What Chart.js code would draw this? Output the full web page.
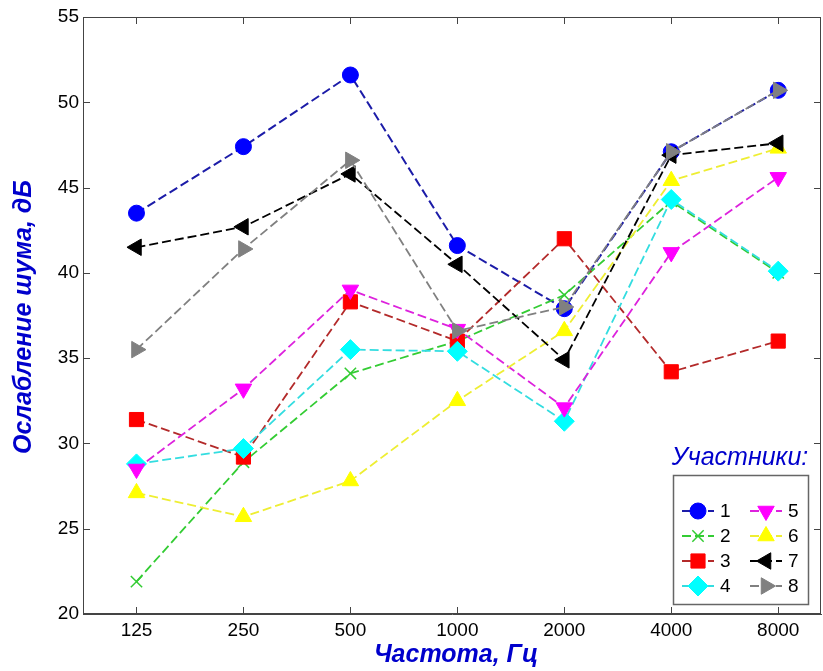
<!DOCTYPE html>
<html lang="ru">
<head>
    <meta charset="UTF-8">
    <title>Ослабление шума</title>
    <script src="https://cdn.jsdelivr.net/npm/chart.js"></script>
    <style>
        html, body {
            margin: 0;
            padding: 0;
            background: #ffffff;
        }
        #chart {
            display: block;
        }
    </style>
</head>
<body>
<canvas id="chart" width="823" height="671"></canvas>
<script>
    // frequencies, Hz
    var freqs = ['125', '250', '500', '1000', '2000', '4000', '8000'];
    var yTicks = [20, 25, 30, 35, 40, 45, 50, 55];

    // noise attenuation per participant, dB
    var p1 = [43.5, 47.4, 51.6, 41.6, 37.9, 47.1, 50.7];
    var p2 = [21.9, 28.9, 34.1, 36.0, 38.7, 44.2, 40.0];
    var p3 = [31.4, 29.2, 38.3, 36.0, 42.0, 34.2, 36.0];
    var p4 = [28.8, 29.7, 35.5, 35.4, 31.3, 44.3, 40.1];
    var p5 = [28.5, 33.2, 39.0, 36.7, 32.1, 41.2, 45.6];
    var p6 = [27.1, 25.7, 27.8, 32.5, 36.6, 45.4, 47.3];
    var p7 = [41.5, 42.7, 45.8, 40.5, 34.9, 46.9, 47.6];
    var p8 = [35.5, 41.4, 46.6, 36.6, 38.0, 47.1, 50.7];

    var names = ['1', '2', '3', '4', '5', '6', '7', '8'];
    var values = [p1, p2, p3, p4, p5, p6, p7, p8];

    var FONT = '"Liberation Sans", Arial, sans-serif';
    var AXIS = '#444444';

    // line colour, marker colour, marker style, rotation, radius, line width
    var looks = [
        {line: '#1c1ca8', mark: '#0000ff', style: 'circle', rot: 0, r: 8, w: 2},
        {line: '#33cc33', mark: '#33cc33', style: 'crossRot', rot: 0, r: 8, w: 1.8},
        {line: '#b32a2a', mark: '#ff0000', style: 'rect', rot: 0, r: 10, w: 1.8},
        {line: '#33dde0', mark: '#00ffff', style: 'rectRot', rot: 0, r: 10, w: 1.8},
        {line: '#dd22dd', mark: '#ff00ff', style: 'triangle', rot: 180, r: 9.5, w: 1.8},
        {line: '#eeee33', mark: '#ffff00', style: 'triangle', rot: 0, r: 9.5, w: 1.8},
        {line: '#000000', mark: '#000000', style: 'triangle', rot: -90, r: 9.5, w: 1.8},
        {line: '#808080', mark: '#808080', style: 'triangle', rot: 90, r: 9.5, w: 1.8}
    ];

    var datasets = values.map(function (vals, i) {
        var lk = looks[i];
        return {
            label: names[i],
            data: vals.map(function (v, j) {
                return {x: j + 1, y: v};
            }),
            borderColor: lk.line,
            borderWidth: lk.w,
            borderDash: [9, 4],
            backgroundColor: lk.mark,
            pointStyle: lk.style,
            pointRotation: lk.rot,
            pointRadius: lk.r,
            pointBackgroundColor: lk.mark,
            pointBorderColor: lk.mark,
            pointBorderWidth: lk.style === 'crossRot' ? 1.5 : 1,
            fill: false,
            tension: 0,
            order: values.length - i
        };
    });

    function drawMarker(ctx, lk, x, y) {
        ctx.save();
        ctx.fillStyle = lk.mark;
        ctx.strokeStyle = lk.mark;
        ctx.lineWidth = lk.style === 'crossRot' ? 1.5 : 1;
        Chart.helpers.drawPoint(ctx, {
            pointStyle: lk.style,
            rotation: lk.rot,
            radius: lk.r,
            borderWidth: ctx.lineWidth
        }, x, y);
        ctx.restore();
    }

    var decor = {
        id: 'decor',
        afterDraw: function (chart) {
            var ctx = chart.ctx;
            var a = chart.chartArea;
            var xs = chart.scales.x, ys = chart.scales.y;
            ctx.save();

            // frame + inward ticks, matlab style
            ctx.strokeStyle = AXIS;
            ctx.lineWidth = 1;
            ctx.strokeRect(a.left + 0.5, a.top + 0.5, a.right - a.left - 1, a.bottom - a.top - 1);
            ctx.beginPath();
            for (var i = 0; i < freqs.length; i++) {
                var px = Math.round(xs.getPixelForValue(i + 1)) + 0.5;
                ctx.moveTo(px, a.bottom);
                ctx.lineTo(px, a.bottom - 7);
                ctx.moveTo(px, a.top);
                ctx.lineTo(px, a.top + 7);
            }
            yTicks.forEach(function (t) {
                var py = Math.round(ys.getPixelForValue(t)) + 0.5;
                ctx.moveTo(a.left, py);
                ctx.lineTo(a.left + 7, py);
                ctx.moveTo(a.right, py);
                ctx.lineTo(a.right - 7, py);
            });
            ctx.stroke();

            // axis titles
            ctx.fillStyle = '#0000cc';
            ctx.textAlign = 'center';
            ctx.textBaseline = 'middle';
            ctx.font = 'italic bold 25px ' + FONT;
            ctx.fillText('Частота, Гц', 456, 655);
            ctx.save();
            ctx.translate(24, 317);
            ctx.rotate(-Math.PI / 2);
            ctx.fillText('Ослабление шума, дБ', 0, 0);
            ctx.restore();

            // legend
            ctx.font = 'italic 25px ' + FONT;
            ctx.fillText('Участники:', 740, 458);
            ctx.fillStyle = '#ffffff';
            ctx.fillRect(673, 475, 135, 129);
            ctx.strokeStyle = '#666666';
            ctx.lineWidth = 1.5;
            ctx.strokeRect(673.5, 475.5, 135, 129);

            ctx.font = '19px ' + FONT;
            ctx.textAlign = 'left';
            for (var k = 0; k < looks.length; k++) {
                var col = Math.floor(k / 4), row = k % 4;
                var cx = col === 0 ? 698 : 766;
                var cy = 511 + row * 25;
                ctx.strokeStyle = looks[k].line;
                ctx.lineWidth = looks[k].w;
                ctx.setLineDash([9, 4]);
                ctx.beginPath();
                ctx.moveTo(cx - 16, cy);
                ctx.lineTo(cx + 16, cy);
                ctx.stroke();
                ctx.setLineDash([]);
                drawMarker(ctx, looks[k], cx, cy);
                ctx.fillStyle = '#000000';
                ctx.fillText(names[k], cx + 22, cy + 1);
            }
            ctx.restore();
        }
    };

    new Chart(document.getElementById('chart'), {
        type: 'line',
        data: {datasets: datasets},
        plugins: [decor],
        options: {
            responsive: false,
            animation: false,
            events: [],
            layout: {autoPadding: false, padding: {top: 17, right: 2, left: 0, bottom: 0}},
            plugins: {
                legend: {display: false},
                tooltip: {enabled: false}
            },
            scales: {
                x: {
                    type: 'linear',
                    min: 0.5,
                    max: 7.4,
                    afterBuildTicks: function (scale) {
                        scale.ticks = freqs.map(function (f, i) {
                            return {value: i + 1};
                        });
                    },
                    afterFit: function (scale) {
                        scale.height = 57;
                        scale.paddingLeft = 0;
                        scale.paddingRight = 0;
                    },
                    grid: {display: true, drawOnChartArea: false, drawTicks: false},
                    border: {display: true, color: AXIS},
                    ticks: {
                        padding: 5,
                        color: '#000000',
                        maxRotation: 0,
                        autoSkip: false,
                        font: {family: FONT, size: 19},
                        callback: function (v) {
                            return freqs[v - 1];
                        }
                    }
                },
                y: {
                    min: 20,
                    max: 55,
                    afterBuildTicks: function (scale) {
                        scale.ticks = yTicks.map(function (t) {
                            return {value: t};
                        });
                    },
                    afterFit: function (scale) {
                        scale.width = 83;
                    },
                    grid: {display: true, drawOnChartArea: false, drawTicks: false},
                    border: {display: true, color: AXIS},
                    ticks: {
                        padding: 4,
                        color: '#000000',
                        font: {family: FONT, size: 19}
                    }
                }
            }
        }
    });
</script>
</body>
</html>
